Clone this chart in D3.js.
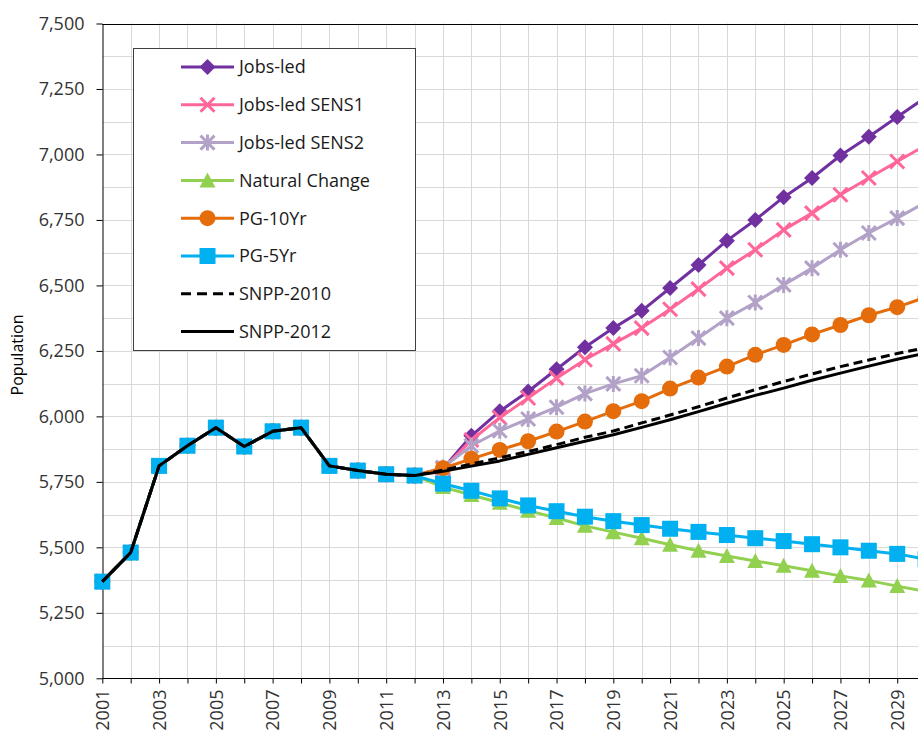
<!DOCTYPE html>
<html><head><meta charset="utf-8">
<script src="https://cdn.jsdelivr.net/npm/d3@7"></script>
<style>
body{margin:0;background:#fff}
svg{display:block}
text{font-family:"Open Sans",sans-serif}
</style>
</head><body>
<svg id="chart" width="918" height="733"></svg>
<script>
// ---------- DATA ----------
const years = [2001,2002,2003,2004,2005,2006,2007,2008,2009,2010,2011,2012,
               2013,2014,2015,2016,2017,2018,2019,2020,2021,2022,2023,2024,2025,2026,2027,2028,2029,2030];
const history = [5369,5480,5811,5888,5957,5885,5943,5957,5811,5793,5779,5774]; // 2001-2012
// projections 2013-2030
const jobsLed   = [5800,5926,6020,6095,6180,6264,6337,6403,6490,6578,6671,6750,6837,6910,6996,7068,7143,7218];
const jobsSens1 = [5800,5910,5995,6070,6146,6216,6277,6337,6409,6486,6566,6636,6712,6776,6846,6910,6973,7035];
const jobsSens2 = [5805,5888,5945,5990,6035,6087,6124,6155,6225,6299,6375,6435,6502,6566,6636,6700,6757,6818];
const natural   = [5730,5700,5670,5640,5612,5582,5558,5535,5510,5487,5467,5448,5430,5411,5391,5373,5352,5332];
const pg10      = [5802,5838,5872,5905,5942,5980,6020,6058,6106,6148,6190,6235,6273,6313,6349,6386,6417,6455];
const pg5       = [5743,5716,5687,5660,5638,5617,5600,5585,5571,5559,5547,5535,5524,5512,5500,5487,5475,5455];
const snpp2010  = [5795,5818,5842,5866,5892,5920,5944,5975,6005,6037,6070,6102,6133,6162,6190,6215,6240,6262];
const snpp2012  = [5790,5810,5830,5855,5880,5905,5930,5958,5987,6018,6050,6080,6108,6138,6165,6192,6218,6242];
const seriesNames = ["Jobs-led","Jobs-led SENS1","Jobs-led SENS2","Natural Change","PG-10Yr","PG-5Yr","SNPP-2010","SNPP-2012"];
const yTickValues = [5000,5250,5500,5750,6000,6250,6500,6750,7000,7250,7500];
const yLabel = "Population";

// ---------- STYLE ----------
const styles = [
  {color:"#7030A0", marker:"diamond"},
  {color:"#FF6699", marker:"x"},
  {color:"#B3A2C7", marker:"star"},
  {color:"#92D050", marker:"triangle"},
  {color:"#E46C0A", marker:"circle"},
  {color:"#00B0F0", marker:"square"},
  {color:"#000000", marker:null, dash:"9,5"},
  {color:"#000000", marker:null}
];
const projections = [jobsLed,jobsSens1,jobsSens2,natural,pg10,pg5,snpp2010,snpp2012];
const series = seriesNames.map((name,i)=>({
  name, ...styles[i],
  values: history.concat(projections[i]).map((v,j)=>({year:years[j], value:v}))
}));

const svg = d3.select("#chart");
const x = d3.scaleLinear().domain([2001,2031]).range([102.3, 954]);
const y = d3.scaleLinear().domain([5000,7500]).range([678.3, 23.5]);

// gridlines
const gridY = d3.range(5125, 7500, 125);
svg.append("g").selectAll("line").data(gridY).join("line")
  .attr("x1", x(2001)).attr("x2", 918)
  .attr("y1", d=>Math.round(y(d))+0.5).attr("y2", d=>Math.round(y(d))+0.5)
  .attr("stroke","#d9d9d9").attr("stroke-width",1);
const gridX = years.slice(1).concat([2031]);
svg.append("g").selectAll("line").data(gridX).join("line")
  .attr("x1", d=>Math.round(x(d))+0.5).attr("x2", d=>Math.round(x(d))+0.5)
  .attr("y1", y(7500)).attr("y2", y(5000))
  .attr("stroke","#d9d9d9").attr("stroke-width",1);
// top border
svg.append("line").attr("x1",x(2001)).attr("x2",918)
  .attr("y1",Math.round(y(7500))+0.5).attr("y2",Math.round(y(7500))+0.5)
  .attr("stroke","#000");

// axes
const yAxis = svg.append("g").attr("transform",`translate(${Math.round(x(2001))+0.5},0)`)
  .call(d3.axisLeft(y).tickValues(yTickValues).tickSize(6).tickSizeOuter(0).tickPadding(12).tickFormat(d3.format(",")));
yAxis.selectAll("text").attr("font-size",18).attr("fill","#333");
yAxis.select(".domain").attr("stroke","#000");
yAxis.selectAll(".tick line").attr("stroke","#000");

const xAxis = svg.append("g").attr("transform",`translate(0,${Math.round(y(5000))+0.5})`)
  .call(d3.axisBottom(x).tickValues(years).tickSize(5).tickSizeOuter(0).tickFormat(d=> d%2===1 ? d : ""));
xAxis.select(".domain").attr("stroke","#000").attr("d",`M${x(2001)},0H918`);
xAxis.selectAll(".tick line").attr("stroke","#000");
xAxis.selectAll("text")
  .attr("font-size",18).attr("fill","#333")
  .attr("transform","rotate(-90)")
  .attr("text-anchor","end")
  .attr("x",-11).attr("y",0).attr("dy","0.35em");

svg.append("text").attr("transform",`translate(23,355) rotate(-90)`)
  .attr("text-anchor","middle").attr("font-size",16).attr("fill","#000").text(yLabel);

// markers
function drawMarker(g, type, color){
  const s = 8;
  if(type==="diamond") g.append("path").attr("d",`M0,${-s}L${s},0L0,${s}L${-s},0Z`).attr("fill",color);
  else if(type==="square") g.append("rect").attr("x",-s).attr("y",-s).attr("width",2*s).attr("height",2*s).attr("fill",color);
  else if(type==="circle") g.append("circle").attr("r",s).attr("fill",color);
  else if(type==="triangle") g.append("path").attr("d",`M0,${-s}L${s},${s-1}L${-s},${s-1}Z`).attr("fill",color);
  else if(type==="x") g.append("path").attr("d","M-7,-7L7,7M-7,7L7,-7").attr("stroke",color).attr("stroke-width",3).attr("fill","none");
  else if(type==="star") g.append("path").attr("d","M-7,-7L7,7M-7,7L7,-7M0,-8L0,8").attr("stroke",color).attr("stroke-width",3).attr("fill","none");
}

const line = d3.line().x(d=>x(d.year)).y(d=>y(d.value));
series.forEach(s=>{
  const g = svg.append("g");
  g.append("path").datum(s.values).attr("d",line)
    .attr("fill","none").attr("stroke",s.color).attr("stroke-width",3)
    .attr("stroke-linejoin","round")
    .attr("stroke-dasharray", s.dash||null);
  if(s.marker){
    s.values.forEach(d=>{
      const m = g.append("g").attr("transform",`translate(${x(d.year)},${y(d.value)})`);
      drawMarker(m, s.marker, s.color);
    });
  }
});

// legend
const lg = svg.append("g");
lg.append("rect").attr("x",133.5).attr("y",48.5).attr("width",282).attr("height",302)
  .attr("fill","#fff").attr("stroke","#404040").attr("stroke-width",1);
series.forEach((s,i)=>{
  const cy = 67 + i*37.8;
  lg.append("line").attr("x1",181).attr("x2",234).attr("y1",cy).attr("y2",cy)
    .attr("stroke",s.color).attr("stroke-width",3).attr("stroke-dasharray", s.dash ? "10,6" : null);
  if(s.marker){
    const m = lg.append("g").attr("transform",`translate(207.5,${cy})`);
    drawMarker(m, s.marker, s.color);
  }
  lg.append("text").attr("x",239).attr("y",cy).attr("dy","0.35em")
    .attr("font-size",18).attr("fill","#1a1a1a").text(s.name);
});
</script>
</body></html>
